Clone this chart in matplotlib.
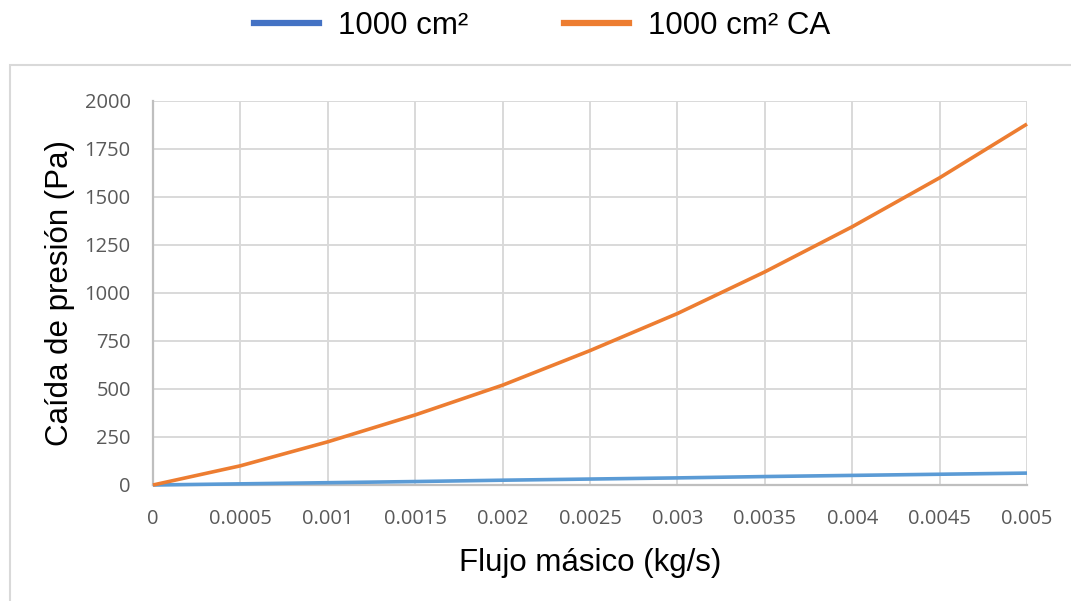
import matplotlib
matplotlib.use("Agg")
import matplotlib.pyplot as plt
from matplotlib.lines import Line2D
from matplotlib.patches import Rectangle

flujo = [0, 0.0005, 0.001, 0.0015, 0.002, 0.0025, 0.003, 0.0035, 0.004, 0.0045, 0.005]
serie_1000 = [0, 6, 12, 18, 25, 31, 37, 44, 50, 56, 62]
serie_1000_ca = [0, 100, 225, 365, 520, 700, 893, 1110, 1345, 1600, 1880]
nombres = ["1000 cm²", "1000 cm² CA"]
xticks = [0, 0.0005, 0.001, 0.0015, 0.002, 0.0025, 0.003, 0.0035, 0.004, 0.0045, 0.005]
xticklabels = ["0", "0.0005", "0.001", "0.0015", "0.002", "0.0025", "0.003", "0.0035", "0.004", "0.0045", "0.005"]
yticks = [0, 250, 500, 750, 1000, 1250, 1500, 1750, 2000]

fig = plt.figure(figsize=(10.71, 6.01), dpi=100)
fig.patch.set_facecolor("white")

# outer chart border
fig.patches.append(Rectangle((10 / 1071, -0.01), 1.1, (601 - 65) / 601 + 0.01,
                             transform=fig.transFigure, fill=False,
                             edgecolor="#d9d9d9", linewidth=1.5))

ax = fig.add_axes([153 / 1071, 1 - 485 / 601, (1027 - 153) / 1071, (485 - 101) / 601])
ax.plot(flujo, serie_1000, color="#5b9bd5", lw=2.6, solid_capstyle="butt", zorder=3, clip_on=False)
ax.plot(flujo, serie_1000_ca, color="#ed7d31", lw=2.6, solid_capstyle="butt", zorder=4, clip_on=False)

ax.set_xlim(0, 0.005)
ax.set_ylim(0, 2000)
ax.set_xticks(xticks)
ax.set_xticklabels(xticklabels)
ax.set_yticks(yticks)
ax.grid(True, color="#d9d9d9", lw=1.4)
ax.set_axisbelow(True)
for s in ["top", "right"]:
    ax.spines[s].set_visible(False)
for s in ["left", "bottom"]:
    ax.spines[s].set_color("#bfbfbf")
    ax.spines[s].set_linewidth(1.6)
ax.tick_params(axis="both", length=0, labelcolor="#595959", labelsize=14.5)
ax.tick_params(axis="y", pad=16)
ax.tick_params(axis="x", pad=17)
for lab in ax.get_xticklabels() + ax.get_yticklabels():
    lab.set_fontfamily("Open Sans")

ax.set_xlabel("Flujo másico (kg/s)", fontsize=22.5, family="Liberation Sans", labelpad=14)
ax.set_ylabel("Caída de presión (Pa)", fontsize=22.5, family="Liberation Sans", labelpad=14)
ax.yaxis.set_label_coords(-0.089, 0.5)

handles = [Line2D([], [], color="#4472c4", lw=4.5), Line2D([], [], color="#ed7d31", lw=4.5)]
fig.legend(handles, nombres, loc="center", bbox_to_anchor=(542 / 1071, 1 - 26 / 601), ncol=2,
           frameon=False, prop={"family": "Liberation Sans", "size": 22.5},
           handlelength=2.1, handletextpad=0.6, columnspacing=3.05)

fig.savefig("out.png", dpi=100, facecolor="white")
